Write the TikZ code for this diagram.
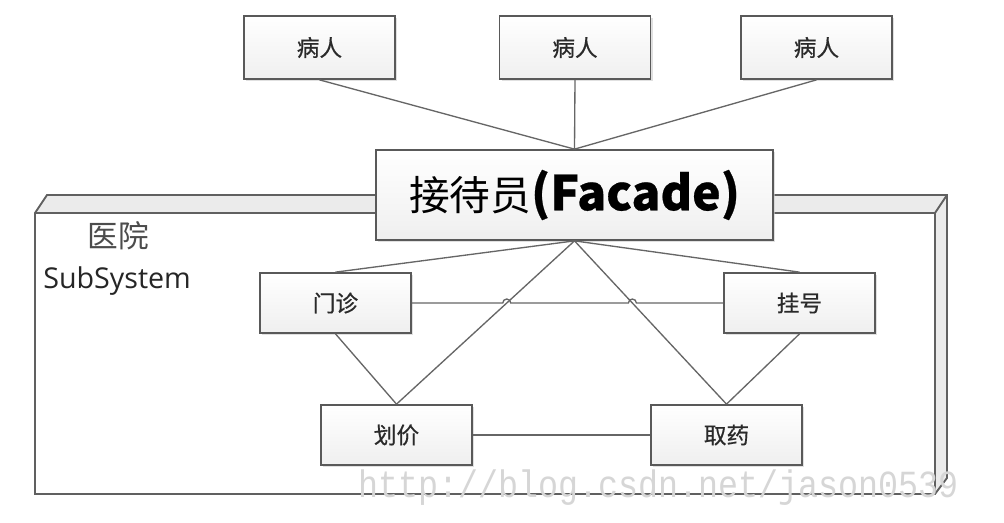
\documentclass[tikz,border=0pt]{standalone}
\usepackage{fontspec}
\setmainfont{Open Sans}
\newfontfamily\cjk{Noto Sans CJK SC}
\newfontfamily\cjkb[FakeBold=0.5]{Noto Sans CJK SC}
\newfontfamily\wmfont{Liberation Mono}
\usetikzlibrary{shadows,calc}
\definecolor{boxline}{HTML}{595959}
\definecolor{conn}{HTML}{666666}
\definecolor{framefill}{HTML}{EBEBEB}
\definecolor{frameline}{HTML}{606060}
\definecolor{boxbot}{HTML}{EFEFEF}
\definecolor{labelc}{HTML}{2A2A2A}
\definecolor{wmc}{HTML}{D6D6D6}
\begin{document}
\begin{tikzpicture}[x=0.75pt,y=-0.75pt,
  sz/.style 2 args={minimum width=#1*0.75pt, minimum height=#2*0.75pt},
  box/.style={draw=boxline, line width=1.3pt, top color=white, bottom color=boxbot,
    inner sep=0pt, text=labelc, font=\cjkb\fontsize{17pt}{17pt}\selectfont,
    drop shadow={shadow xshift=1.5pt, shadow yshift=-1.5pt, fill=black!20, opacity=0.6}},
  conline/.style={draw=conn, line width=1pt},
  frameedge/.style={draw=frameline, line width=1.4pt, line join=miter}]
\useasboundingbox (0,0) rectangle (1004,522);
% package frame (3D)
\fill[framefill] (35,213) -- (47,195) -- (947,195) -- (947,478) -- (935,494) -- (935,213) -- cycle;
\fill[white] (35,213) rectangle (935,494);
\draw[frameedge] (35,494) -- (35,213) -- (47,195) -- (947,195) -- (947,478) -- (935,494) -- cycle;
\draw[frameedge] (35,213) -- (935,213) -- (935,494);
\draw[frameedge] (935,213) -- (947,195);
\node[anchor=center, text=black!70, font=\cjk\fontsize{23pt}{23pt}\selectfont] (yy) at (118,236) {医院};
\node[anchor=base west, inner sep=0pt, text=black!85, font=\fontsize{21.5pt}{21.5pt}\selectfont] (ss) at (43,288) {SubSystem};
% nodes
\node[box, sz={151}{63}] (p1) at (319.5,47.5) {病人};
\node[box, sz={151}{63}] (p2) at (575,47.5) {病人};
\node[box, sz={151}{63}] (p3) at (816.5,47.5) {病人};
\node[box, sz={397}{90}, text=black] (fac) at (574.5,195)
  {{\cjk\fontsize{30.5pt}{30.5pt}\selectfont 接待员}{\bfseries\fontsize{36pt}{36pt}\selectfont (Facade)}};
\node[box, sz={151}{60}] (mz) at (335.5,303) {门诊};
\node[box, sz={151}{60}] (gh) at (799.5,303) {挂号};
\node[box, sz={151}{60}] (hj) at (396.5,435) {划价};
\node[box, sz={151}{60}] (qy) at (726.5,435) {取药};
% connectors
\coordinate (x1) at (intersection of fac.south--hj.north and mz.east--gh.west);
\coordinate (x2) at (intersection of fac.south--qy.north and mz.east--gh.west);
\draw[conline] (p1.south) -- (fac.north);
\draw[conline] (p2.south) -- (fac.north);
\draw[conline] (p3.south) -- (fac.north);
\draw[conline] (fac.south) -- (mz.north);
\draw[conline] (fac.south) -- (gh.north);
\draw[conline] (fac.south) -- (hj.north);
\draw[conline] (fac.south) -- (qy.north);
\draw[conline] (mz.south) -- (hj.north);
\draw[conline] (gh.south) -- (qy.north);
\draw[conline] (hj.east) -- (qy.west);
\draw[conline] (mz.east) -- ([xshift=-3pt]x1) arc[start angle=180, end angle=0, radius=3pt]
  -- ([xshift=-3pt]x2) arc[start angle=180, end angle=0, radius=3pt] -- (gh.west);
% watermark
\node[anchor=base west, inner sep=0pt, text=wmc, font=\wmfont\fontsize{25pt}{25pt}\selectfont, yscale=1.15] (wm) at (358,497) {http://blog.csdn.net/jason0539};
\end{tikzpicture}
\end{document}
